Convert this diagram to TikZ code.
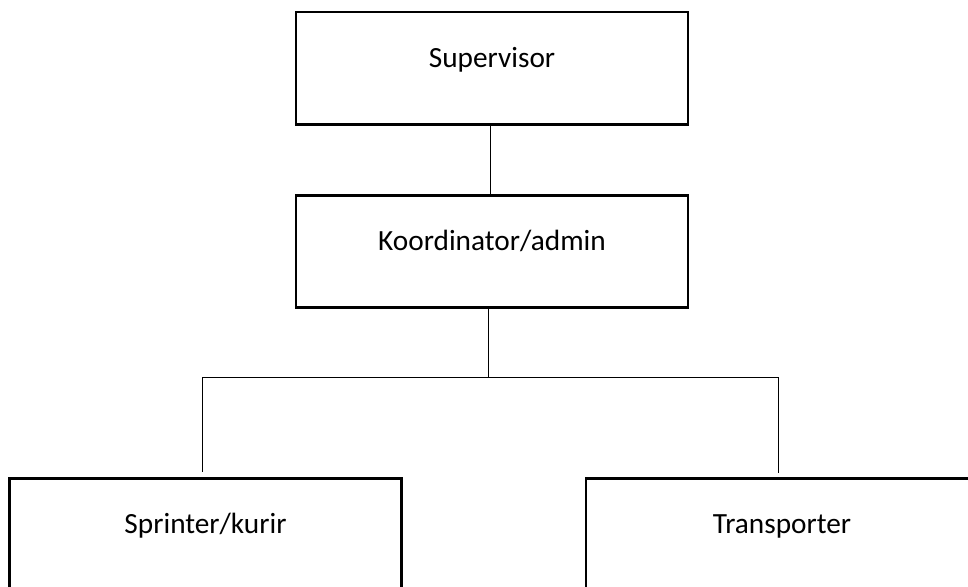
\documentclass[tikz,border=0pt]{standalone}
\usepackage{fontspec}
\setmainfont{Carlito}
\begin{document}
\begin{tikzpicture}[x=1pt,y=-1pt,
  box/.style={draw=black,line width=2.5pt,rectangle,inner sep=0pt,
    minimum width=392pt,text height=55pt,text depth=57pt,
    font=\fontsize{29.3}{35}\selectfont},
  link/.style={draw=black,line width=1pt}]
\useasboundingbox (0,0) rectangle (968,586);
\node[box] (sup) at (492,11) [anchor=north] {Supervisor};
\node[box] (koord) at (492,194) [anchor=north] {Koordinator/admin};
\node[box] (sprint) at (205.5,477) [anchor=north] {Sprinter/kurir};
\node[box] (trans) at (782,477) [anchor=north] {Transporter};
\coordinate (j) at (488,377);
\coordinate (jl) at (202,377);
\coordinate (jr) at (778,377);
\coordinate (el) at (202,472);
\coordinate (er) at (778,473);
\draw[link] (sup.south -| 490.5,0) -- (koord.north -| 490.5,0);
\draw[link] (koord.south -| j) -- (j);
\draw[link] (jl) -- (jr);
\draw[link] (jl) -- (el);
\draw[link] (jr) -- (er);
\end{tikzpicture}
\end{document}
